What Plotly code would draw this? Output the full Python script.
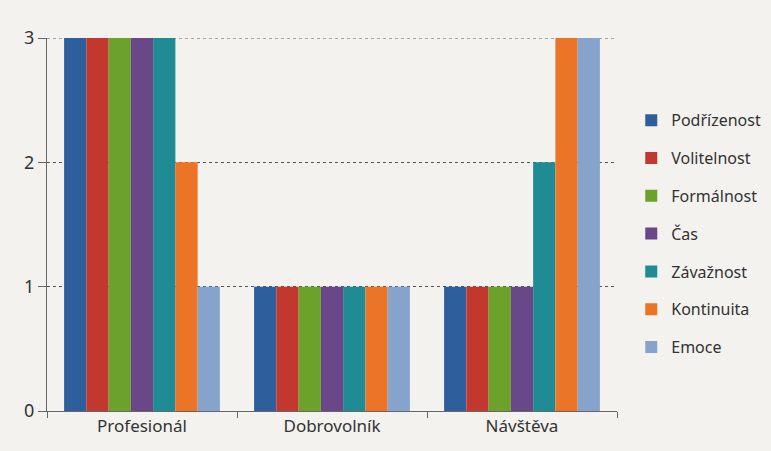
import plotly.graph_objects as go

categories = ["Profesionál", "Dobrovolník", "Návštěva"]
series_names = ["Podřízenost", "Volitelnost", "Formálnost", "Čas", "Závažnost", "Kontinuita", "Emoce"]
podrizenost = [3, 1, 1]
volitelnost = [3, 1, 1]
formalnost = [3, 1, 1]
cas = [3, 1, 1]
zavaznost = [3, 1, 2]
kontinuita = [2, 1, 3]
emoce = [1, 1, 3]
series_values = [podrizenost, volitelnost, formalnost, cas, zavaznost, kontinuita, emoce]
colors = ["#2f5e9c", "#c2382f", "#6ca22c", "#6a4788", "#1f8b94", "#ec7426", "#86a4cb"]
y_ticks = [0, 1, 2, 3]

fig = go.Figure()
for i, (name, vals) in enumerate(zip(series_names, series_values)):
    fig.add_trace(go.Bar(x=categories, y=vals, name=name, marker_color=colors[i],
                         marker_line_width=0, legendgroup=name))

bg = "#f3f2ee"
fig.update_layout(
    width=771, height=451,
    margin=dict(l=47, r=154, t=38, b=40, autoexpand=False),
    paper_bgcolor=bg, plot_bgcolor=bg,
    barmode="group", bargap=0.18, bargroupgap=0,
    font=dict(family="Noto Sans, Open Sans, sans-serif", color="#333333", size=16),
    legend=dict(x=1.025, y=0.825, xanchor="left", yanchor="top",
                font=dict(size=16, color="#333333"), tracegroupgap=14,
                bgcolor="rgba(0,0,0,0)"),
    showlegend=True,
)
# dotted reference line at the top value (plotly drops the edge gridline)
fig.add_shape(type="line", xref="paper", yref="y", x0=0, x1=1, y0=y_ticks[-1], y1=y_ticks[-1],
              line=dict(color="#555555", width=1, dash="dot"), layer="below")
fig.update_xaxes(showgrid=False, showline=True, linecolor="#666666", linewidth=1,
                 ticks="outside", tickson="boundaries", ticklen=6, tickcolor="#666666",
                 tickfont=dict(size=17))
fig.update_yaxes(range=[0, 3], tickvals=y_ticks, showgrid=True, gridcolor="#555555",
                 gridwidth=1, griddash="dot", zeroline=False, showline=True,
                 linecolor="#666666", linewidth=1, ticks="outside", ticklen=8,
                 tickcolor="#666666", tickfont=dict(size=18))
fig.write_html("out.html")
